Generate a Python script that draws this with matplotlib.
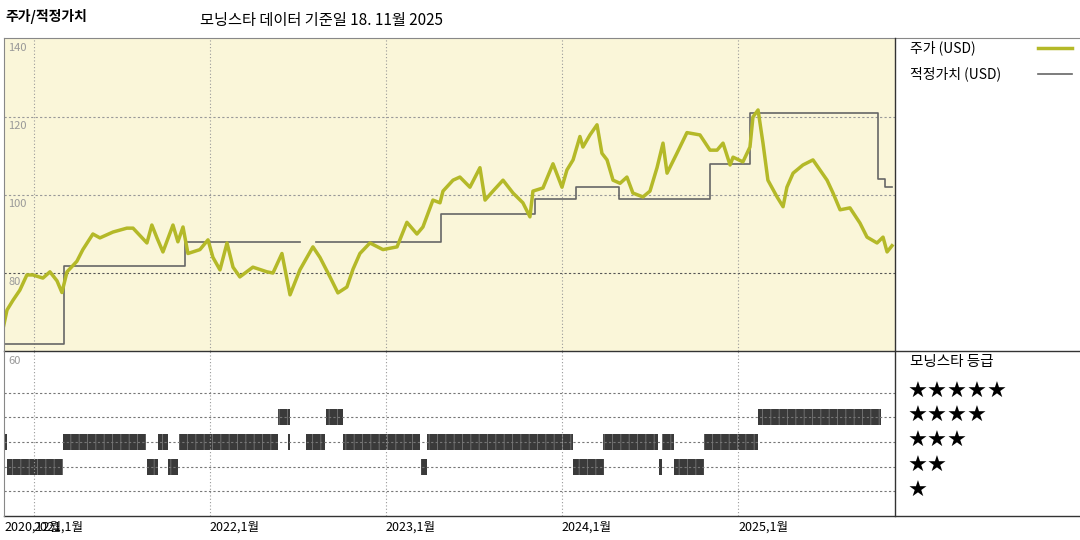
import matplotlib
matplotlib.use("Agg")
import matplotlib.pyplot as plt
import numpy as np
from matplotlib.lines import Line2D

plt.rcParams['font.family'] = ['Noto Sans CJK KR', 'DejaVu Sans']

BASE_YEAR = 2021
# time in years since Jan 2021
price_t = [-0.193,-0.153,-0.119,-0.080,-0.040,-0.006,0.051,0.091,0.131,0.159,
           0.188,0.244,0.278,0.335,0.375,0.449,0.528,0.563,0.642,0.670,
           0.699,0.733,0.790,0.818,0.847,0.875,0.943,0.989,1.017,1.057,
           1.097,1.131,1.170,1.244,1.324,1.358,1.409,1.455,1.511,1.585,
           1.625,1.682,1.727,1.778,1.813,1.852,1.909,1.983,2.063,2.119,
           2.176,2.210,2.267,2.307,2.324,2.381,2.420,2.477,2.534,2.563,
           2.608,2.665,2.722,2.778,2.818,2.835,2.892,2.949,3.000,3.028,
           3.063,3.102,3.119,3.159,3.199,3.227,3.256,3.290,3.330,3.369,
           3.403,3.460,3.500,3.540,3.574,3.597,3.653,3.710,3.784,3.841,
           3.881,3.915,3.955,3.972,4.028,4.068,4.085,4.114,4.142,4.170,
           4.222,4.256,4.278,4.313,4.369,4.426,4.466,4.506,4.540,4.580,
           4.636,4.693,4.733,4.790,4.824,4.847,4.875]
price = [62,70.5,73,75.6,79.5,79.5,78.7,80.3,78,75,
         80.3,83,86,90,89,90.5,91.5,91.5,87.7,92.3,
         89,85.4,92.3,88,91.8,85,86,88.5,84,80.8,
         87.7,81.5,79,81.5,80.3,80,85,74.4,80.8,86.7,
         84,79,74.9,76.4,81,85,87.7,86,86.7,93,
         90,91.8,98.7,98,101,103.8,104.6,102,107,98.7,
         101,103.8,100.5,98,94.4,101,101.8,108,102,106.4,
         109,115,112.3,115.4,118,110.7,109,103.8,103,104.6,
         100.5,99.5,101,107,113.3,105.6,110.7,116,115.4,111.5,
         111.5,113.3,107.7,109.7,108.5,112.3,120,121.8,113.3,103.8,
         99.5,97,102,105.6,107.7,109,106.4,103.8,100.5,96.2,
         96.7,92.8,89.2,87.7,89.2,85.4,87]

fv_t = [-0.170,0.170,0.858,1.511,1.602,2.313,2.847,3.080,3.324,3.841,4.068,4.795,4.835,4.875]
fv = [61.8,81.9,88.0,None,88.0,95.1,99.0,102.0,99.0,108.0,121.0,104.0,102.0,102.0]

rating_start = [-0.176,0.165,0.705,0.824,1.443,1.545,1.756,2.233,3.233,3.568,3.807,
                -0.153,0.642,0.761,2.199,3.063,3.551,3.636,
                1.386,1.659,4.114]
rating_end = [-0.153,0.636,0.761,1.386,1.455,1.653,2.193,3.063,3.545,3.636,4.114,
              0.165,0.705,0.818,2.233,3.239,3.568,3.807,
              1.455,1.756,4.813]
rating_stars = [3]*11 + [2]*7 + [4]*3

tick_years = [2021, 2022, 2023, 2024, 2025]
tick_labels = ['2021,1월', '2022,1월', '2023,1월', '2024,1월', '2025,1월']
y_ticks = [140, 120, 100, 80]

fig = plt.figure(figsize=(10.8, 5.4), dpi=100)
W, H = 1080, 540
def rect(x0, y0, x1, y1):
    return [x0 / W, 1 - y1 / H, (x1 - x0) / W, (y1 - y0) / H]

olive = '#b4b928'
xmin, xmax = BASE_YEAR - 0.170, BASE_YEAR + 4.892

ax = fig.add_axes(rect(4, 39, 895, 351))
ax.set_facecolor('#faf6d9')
ax.set_xlim(xmin, xmax)
ax.set_ylim(60, 140)
for y in [80, 100, 120]:
    ax.axhline(y, color='#555555' if y == 80 else '#999999', ls=(0, (2, 2)), lw=0.8)
for yr in tick_years:
    ax.axvline(yr, color='#999999', ls=(0, (1, 2)), lw=0.8)
for y in y_ticks:
    ax.text(0.005, y - 2.2, str(y), transform=ax.get_yaxis_transform(),
            fontsize=8, color='#999999', va='center', ha='left')
fvx = [BASE_YEAR + t for t in fv_t]
fvy = [np.nan if v is None else v for v in fv]
ax.plot(fvx, fvy, drawstyle='steps-post', color='#666666', lw=1.2)
ax.plot([BASE_YEAR + t for t in price_t], price, color=olive, lw=2.5)
ax.set_xticks([]); ax.set_yticks([])
for s in ax.spines.values():
    s.set_visible(False)

ax2 = fig.add_axes(rect(4, 351, 895, 516))
ax2.set_xlim(xmin, xmax)
ax2.set_ylim(0, 6.7)
for k in range(1, 6):
    ax2.axhline(k, color='#777777', ls=(0, (2, 2)), lw=0.8)
for yr in tick_years:
    ax2.axvline(yr, color='#999999', ls=(0, (1, 2)), lw=0.8)
plt.rcParams['hatch.linewidth'] = 0.6
for s, e, k in zip(rating_start, rating_end, rating_stars):
    ax2.barh(k, e - s, left=BASE_YEAR + s, height=0.65, color='#3a3a3a',
             edgecolor='#777777', hatch='||', lw=0)
ax2.text(0.005, 6.3, '60', transform=ax2.get_yaxis_transform(),
         fontsize=8, color='#999999', va='center')
ax2.set_yticks([]); ax2.set_xticks([])
for s in ax2.spines.values():
    s.set_visible(False)
for yr, lab in zip(tick_years, tick_labels):
    ax2.text(yr, -0.2, lab, fontsize=9, ha='left', va='top')
ax2.text(xmin, -0.2, '2020,12월', fontsize=9, ha='left', va='top')

# frame lines
def fline(x0, y0, x1, y1, c='#333333', lw=1):
    fig.add_artist(Line2D([x0 / W, x1 / W], [1 - y0 / H, 1 - y1 / H], color=c, lw=lw))
fline(4, 38, 1080, 38, '#888888', 0.8)
fline(4, 351, 1080, 351)
fline(4, 516, 1080, 516)
fline(895, 38, 895, 516)
fline(4, 38, 4, 516, '#888888', 0.8)

fig.text(5 / W, 1 - 17 / H, '주가/적정가치', fontsize=10, fontweight='bold', va='center')
fig.text(200 / W, 1 - 20 / H, '모닝스타 데이터 기준일 18. 11월 2025', fontsize=11, va='center')
fig.text(910 / W, 1 - 48 / H, '주가 (USD)', fontsize=10, va='center')
fline(1038, 48, 1072, 48, olive, 2.5)
fig.text(910 / W, 1 - 74 / H, '적정가치 (USD)', fontsize=10, va='center')
fline(1038, 74, 1072, 74, '#666666', 1.2)
fig.text(910 / W, 1 - 362 / H, '모닝스타 등급', fontsize=10.5, va='center')
for k, yy in zip([5, 4, 3, 2, 1], [392, 416, 441, 466, 491]):
    fig.text(908 / W, 1 - yy / H, '★' * k, fontsize=16, va='center',
             family=['DejaVu Sans'])

fig.savefig('out.png', dpi=100)
